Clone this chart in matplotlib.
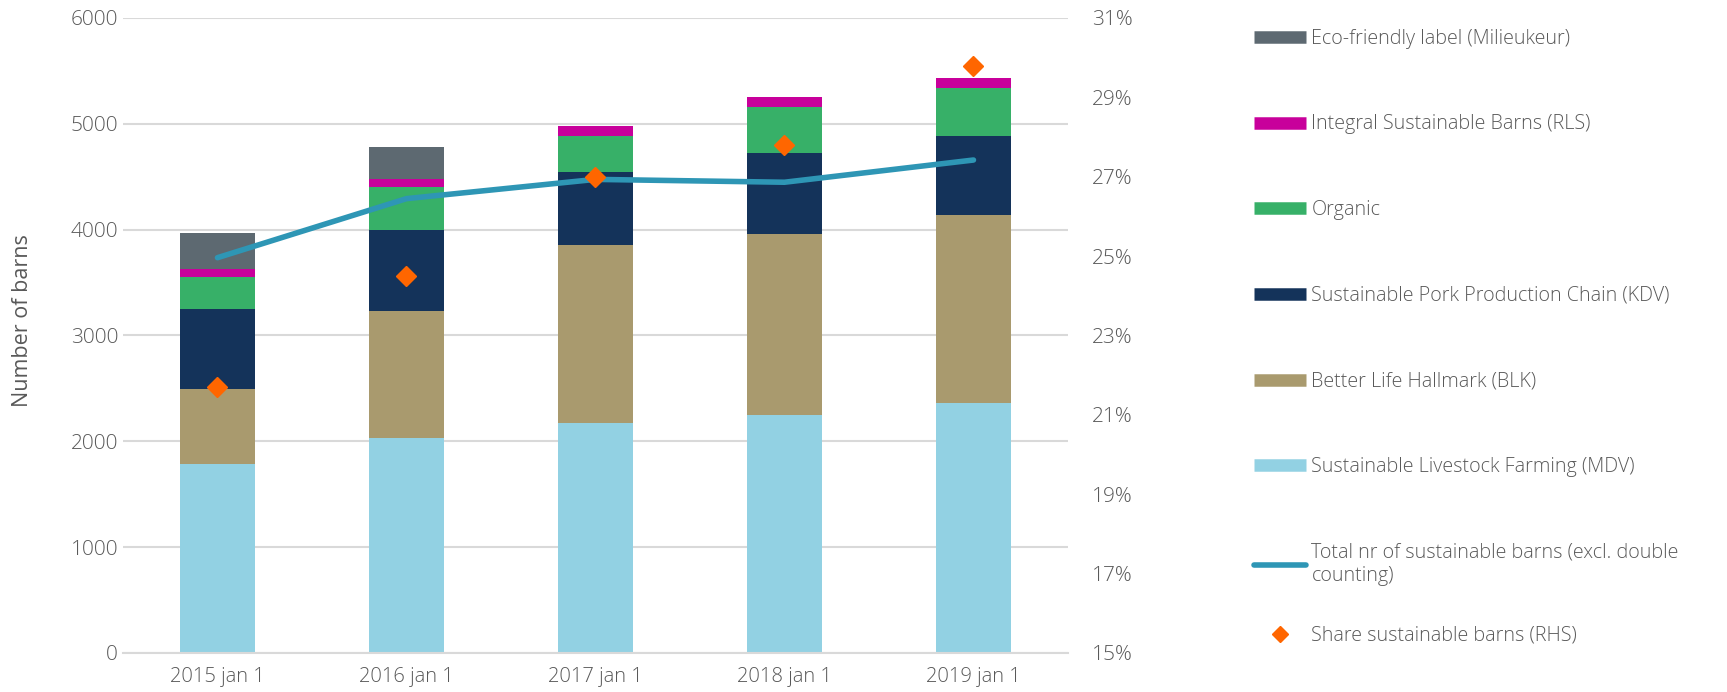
import matplotlib.pyplot as plt
from matplotlib.lines import Line2D
from matplotlib.ticker import FuncFormatter
import numpy as np

categories = ["2015 jan 1", "2016 jan 1", "2017 jan 1", "2018 jan 1", "2019 jan 1"]

mdv = [1786, 2029, 2170, 2249, 2362]
blk = [709, 1203, 1685, 1707, 1774]
kdv = [755, 768, 693, 769, 749]
organic = [303, 400, 337, 434, 451]
rls = [78, 79, 95, 92, 94]
eco = [338, 302, 0, 0, 0]

total_barns = [3735, 4293, 4475, 4448, 4658]
share_pct = [21.7, 24.5, 27.0, 27.8, 29.8]

series = [
    ("Sustainable Livestock Farming (MDV)", mdv, "#92D1E3"),
    ("Better Life Hallmark (BLK)", blk, "#A99A6E"),
    ("Sustainable Pork Production Chain (KDV)", kdv, "#14335A"),
    ("Organic", organic, "#37B068"),
    ("Integral Sustainable Barns (RLS)", rls, "#C8009B"),
    ("Eco-friendly label (Milieukeur)", eco, "#5D6971"),
]
line_label = "Total nr of sustainable barns (excl. double\ncounting)"
share_label = "Share sustainable barns (RHS)"

text_col = "#595959"
grid_col = "#D9D9D9"
plt.rcParams['font.family'] = ['Open Sans', 'DejaVu Sans']
plt.rcParams['font.weight'] = 'light'

fig = plt.figure(figsize=(17.27, 6.92), dpi=100)
ax = fig.add_axes([0.0712, 0.0564, 0.5472, 0.9176])

x = np.arange(len(categories))
bottom = np.zeros(len(categories))
for name, vals, col in series:
    ax.bar(x, vals, 0.4, bottom=bottom, color=col, zorder=2)
    bottom += np.array(vals)

ax.plot(x, total_barns, color="#2E96B5", lw=4, solid_capstyle='round', zorder=3)

ax.set_xlim(-0.5, len(categories) - 0.5)
ax.set_ylim(0, 6000)
ax.set_yticks(range(0, 6001, 1000))
ax.set_xticks(x)
ax.set_xticklabels(categories)
ax.yaxis.grid(True, color=grid_col, lw=1.5, zorder=0)
ax.set_axisbelow(True)
for s in ax.spines.values():
    s.set_visible(False)
ax.spines['bottom'].set_visible(True)
ax.spines['bottom'].set_color(grid_col)
ax.spines['bottom'].set_linewidth(1.5)
ax.tick_params(axis='both', length=0, labelsize=15, labelcolor=text_col)
ax.tick_params(axis='x', pad=10, labelsize=14.5)
ax.set_ylabel("Number of barns", fontsize=15.5, color=text_col)
ax.yaxis.set_label_coords(-0.095, 0.523)

ax2 = ax.twinx()
ax2.plot(x, share_pct, linestyle='none', marker='D', markersize=10,
         color="#FF6600", zorder=4)
ax2.set_ylim(15, 31)
ax2.set_yticks(range(15, 32, 2))
ax2.yaxis.set_major_formatter(FuncFormatter(lambda v, p: f"{v:.0f}%"))
for s in ax2.spines.values():
    s.set_visible(False)
ax2.tick_params(axis='y', length=0, labelsize=15, labelcolor=text_col, pad=17)

handles = []
labels = []
for name, vals, col in reversed(series):
    handles.append(Line2D([], [], color=col, lw=9, solid_capstyle='butt'))
    labels.append(name)
handles.append(Line2D([], [], color="#2E96B5", lw=4, solid_capstyle='round'))
labels.append(line_label)

leg = fig.legend(handles, labels, loc='upper left', bbox_to_anchor=(0.716, 0.984),
                 frameon=False, fontsize=14.2, labelspacing=3.33, handlelength=2.6,
                 handletextpad=0.3)
for t in leg.get_texts():
    t.set_color(text_col)

share_handle = Line2D([], [], color="#FF6600", marker='D', markersize=8, linestyle='none')
leg2 = fig.legend([share_handle], [share_label], loc='center left',
                  bbox_to_anchor=(0.716, 0.0817), frameon=False, fontsize=14.2,
                  handlelength=2.6, handletextpad=0.3)
for t in leg2.get_texts():
    t.set_color(text_col)

fig.savefig("out.png", dpi=100)
